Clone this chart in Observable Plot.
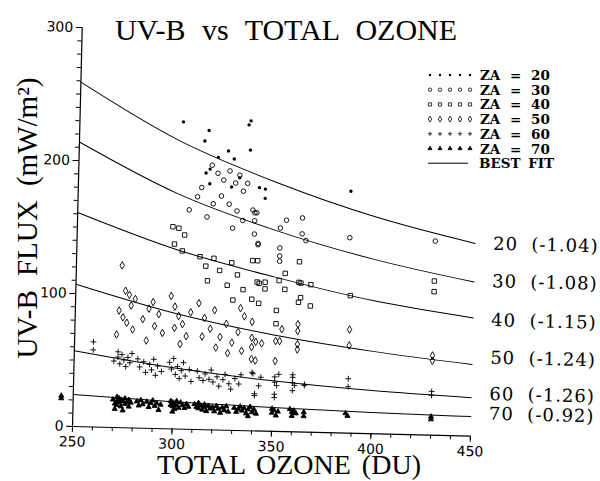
<!DOCTYPE html>
<html><head><meta charset="utf-8">
<script src="https://cdn.jsdelivr.net/npm/d3@7"></script>
<script src="https://cdn.jsdelivr.net/npm/@observablehq/plot@0.6"></script>
<style>
html,body{margin:0;padding:0;background:#fff;}
#chart{width:600px;height:481px;overflow:hidden;position:relative;}
</style></head><body><div id="chart"></div>
<script>
// ---- data ----
const zaLevels = [20, 30, 40, 50, 60, 70];
const fitExponents = [-1.04, -1.08, -1.15, -1.24, -1.26, -0.92];
const fitOzone = [250, 300, 350, 400, 450];
const fit20 = [259, 217, 187, 163, 145];
const fit30 = [214, 177, 151, 131, 116];
const fit40 = [161, 135, 116, 100, 89];
const fit50 = [107, 87, 72.5, 62, 54];
const fit60 = [57, 46, 38, 32.5, 29];
const fit70 = [24, 20.5, 18, 16, 14.8];

const obs20 = [[302,231],[315,225],[313,217],[325,210],[328,204],[335,230],[336,233],[336,211],[314,193],[316,196],[316,185],[327,183],[341,183],[344,182],[344,175],[387,182],[320,205],[331,190]];
const obs30 = [[317,199],[320,193],[323,188],[326,195],[329,186],[331,192],[333,180],[322,176],[318,170],[326,170],[312,182],[335,186],[310,175],[330,165],[306,165],[315,160],[328,152],[333,158],
  [338,166],[339,164],[340,164],[339,158],[339,148],[341,141],[341,140],[352,153],[355,159],[363,161],[363,149],[365,144],[352,138],[352,132],[352,128],[387,147],[430,146]];
const obs40 = [[298,152],[301,151],[304,146],[299,139],[303,134],[312,130],[315,123],[319,129],[322,120],[326,109],[328,126],[331,117],[334,106],[329,98],[316,112],
  [338.5,128],[341,128],[341,112],[342,111],[345,112],[345,107],[352,113.5],[355,107],[355,119],[362,128],[362,112.5],[363,112],[368,111],[388,103.5],[338.5,99],[342,96],[362,97.5],[363,101],[368,95],[351,91],[351,81],[430,116],[430,108]];
const obs50 = [[273,122],[275,103],[277,100],[280,97],[272,88],[274,83],[276,79],[279,74],[271,70],[278,92],
  [284,82],[287,90],[290,77],[292,86],[294,72],[286,66],[289,95],
  [298,100],[300,92],[302,85],[304,79],[306,70],[308,88],[303,64],[300,76],
  [312,95],[314,70],[315,84],[318,76],[320,90],[321,62],[323,70],[326,80],[327,58],[329,66],[332,74],[333,92],[335,86],[334,60],
  [339,82],[354,77],[362,81],[362,76],[388,78],[339,70],[341,67],[339,63],[344,66],[351,68],[353,68],[362,66],[362,62],[388,66],[339,54],[341,53],[351,53],[430,60],[430,56]];
const obs60 = [[259.5,64],[259.5,58],
  [270,50],[272,57],[272,53],[273,48],[274,55],[275,51],[276,46],[277,53],[278,49],[279,56],
  [282,52],[283,46],[285,50],[286,42],[288,48],[289,44],[290,52],[291,40],[292,47],[294,43],
  [298,50],[299,45],[300,53],[301,41],[302,47],[303,38],[304,44],[305,50],[306,40],[308,45],[309,36],
  [312,44],[313,39],[315,37],[316,42],[318,38],[319,45],[320,36],[322,40],[323,33],[325,38],[326,42],[328,35],[329,31],[331,39],[333,35],[334,42],
  [339.5,44],[340,43],[344,40.5],[343,34],[341,28],[341,26.6],[351,41],[353,43],[351,37],[352,34.5],[351,28],[351,25.5],[360,43],[360,41],[360,37],[361,35],[360,31],[366,36],[366,35],[388,41],[388,35],[430,33],[430,30]];
const obs70 = [[244,23],[244,21],
  [270,21],[271,18],[272,23],[272,20],[272,17],[273,22],[273,19],[274,21],[274,16],[275,20],[276,22],[276,18],[277,19],[278,21],[278,16],[279,19],[271,14],[275,13],
  [282,20],[283,17],[284,21],[285,18],[287,20],[288,16],[289,19],[290,21],[291,17],[292,19],[293,14],[294,18],
  [299,21],[299,18],[300,20],[300,17],[301,19],[301,15],[302,21],[302,18],[303,16],[304,20],[305,18],[306,16],[307,19],[308,17],[300,13],
  [311,19],[312,17],[313,20],[313,16],[314,18],[315,15],[316,19],[316,17],[317,14],[318,18],[319,16],
  [320,17],[321,14],[322,18],[323,16],[324,13],[325,17],[326,15],[327,18],[328,14],
  [331,17],[332,14],[333,16],[334,18],[335,15],[336,17],[337,13],[338,16],[339,18],[340,14],[341,16],[342,13],[338,11],
  [350,17],[350,14],[351,16],[352,12],[353,15],
  [359,17],[360,15],[360,12],[361,16],[362,14],
  [366,15],[366,12],[387,15],[388,13],[430,14],[430,12]];

const xTickLabels = [250, 300, 350, 400, 450];
const yTickLabels = [0, 100, 200, 300];

// ---- tidy tables ----
const fitValues = [fit20, fit30, fit40, fit50, fit60, fit70];
const obsValues = [obs20, obs30, obs40, obs50, obs60, obs70];
const points = [];
zaLevels.forEach((za, i) => obsValues[i].forEach(([o, f]) => points.push({za, ozone: o, flux: f})));
const fits = [];
zaLevels.forEach((za, i) => fitValues[i].forEach((f, j) => fits.push({za, ozone: fitOzone[j], flux: f})));
const ends = zaLevels.map((za, i) => ({za, ozone: fitOzone[fitOzone.length - 1], flux: fitValues[i][fitValues[i].length - 1],
  label: `${za}\u00a0\u00a0(${fitExponents[i].toFixed(2)})`}));

// ---- styles ----
const sym = {
  20: {symbol: "circle", r: 1.7, lr: 1.2, fill: "black", stroke: "none"},
  30: {symbol: "circle", r: 2.3, lr: 1.7, fill: "none", stroke: "black"},
  40: {symbol: "square", r: 2.5, lr: 1.8, fill: "none", stroke: "black"},
  50: {symbol: "diamond", r: 2.3, lr: 1.8, fill: "none", stroke: "black"},
  60: {symbol: "plus", r: 2.0, lr: 1.5, fill: "none", stroke: "black"},
  70: {symbol: "triangle", r: 1.9, lr: 1.5, fill: "black", stroke: "black"}
};
const labelNudge = {20: 0, 30: -1, 40: 2, 50: -7, 60: -4, 70: -3};

const dotMarks = zaLevels.map(za => Plot.dot(points.filter(d => d.za === za), {
  x: "ozone", y: "flux", symbol: sym[za].symbol, r: sym[za].r,
  fill: sym[za].fill, stroke: sym[za].stroke, strokeWidth: 0.9
}));
const labelMarks = zaLevels.map(za => Plot.text(ends.filter(d => d.za === za), {
  x: "ozone", y: "flux", text: "label", dx: 18, dy: labelNudge[za], textAnchor: "start",
  fontFamily: "DejaVu Serif", fontSize: 18, fill: "black"
}));

const svg = Plot.plot({
  width: 600, height: 481,
  marginTop: 27, marginRight: 130, marginBottom: 55, marginLeft: 72,
  x: {domain: [250, 450]},
  y: {domain: [0, 300]},
  style: {fontFamily: "DejaVu Sans", fontSize: "14px", color: "black", background: "white"},
  marks: [
    Plot.axisX({ticks: d3.range(250, 451, 10), tickSize: 4, tickFormat: () => "", label: null}),
    Plot.axisX({ticks: xTickLabels, tickSize: 6, tickPadding: 4, label: null, fontSize: 14}),
    Plot.axisY({ticks: d3.range(0, 301, 10), tickSize: 4, tickFormat: () => "", label: null}),
    Plot.axisY({ticks: yTickLabels, tickSize: 6, tickPadding: 3, label: null, fontSize: 14}),
    Plot.ruleX([250], {stroke: "black", strokeWidth: 1.2}),
    Plot.ruleY([0], {stroke: "black", strokeWidth: 1.2}),
    Plot.line(fits, {x: "ozone", y: "flux", z: "za", curve: "monotone-x", stroke: "black", strokeWidth: 1}),
    ...dotMarks,
    ...labelMarks
  ]
});

// the scanned plot body is slightly tilted
const NS = "http://www.w3.org/2000/svg";
const body = document.createElementNS(NS, "g");
body.setAttribute("transform", "rotate(1.4 72 426)");
while (svg.firstChild) body.appendChild(svg.firstChild);
svg.appendChild(body);
d3.select(body).selectAll('g[aria-label="text"] text').style("letter-spacing", "1px");

const s = d3.select(svg);
const serif = "'Liberation Serif','Times New Roman',serif";
s.append("text").attr("x", 286).attr("y", 40).attr("text-anchor", "middle")
  .style("font-family", serif).style("font-size", "30px").style("word-spacing", "9px")
  .text("UV-B vs TOTAL OZONE");
s.append("text").attr("x", 289).attr("y", 474).attr("text-anchor", "middle")
  .style("font-family", serif).style("font-size", "28px").style("word-spacing", "4px")
  .text("TOTAL OZONE (DU)");
s.append("text").attr("transform", "translate(37,218) rotate(-90)").attr("text-anchor", "middle")
  .style("font-family", serif).style("font-size", "29px").style("word-spacing", "7px")
  .text("UV-B FLUX (mW/m\u00b2)");

// legend
const leg = s.append("g").attr("transform", "translate(430,75)").attr("text-anchor", "start");
const symbolType = {circle: d3.symbolCircle, square: d3.symbolSquare, diamond: d3.symbolDiamond, plus: d3.symbolPlus, triangle: d3.symbolTriangle};
const lf = "'DejaVu Serif',serif";
zaLevels.forEach((za, i) => {
  const st = sym[za];
  const path = d3.symbol(symbolType[st.symbol], Math.PI * st.lr * st.lr)();
  for (let j = 0; j < 5; j++) {
    leg.append("path").attr("d", path).attr("transform", `translate(${j * 10},${i * 14.7})`)
      .attr("fill", st.fill).attr("stroke", st.stroke).attr("stroke-width", 0.8);
  }
  const t = leg.append("g").attr("transform", `translate(0,${i * 14.7 + 5})`)
    .style("font-family", lf).style("font-size", "13.5px").style("font-weight", "bold");
  t.append("text").attr("x", 50).attr("text-anchor", "start").text("ZA");
  t.append("text").attr("x", 80).attr("text-anchor", "start").text("=");
  t.append("text").attr("x", 101).attr("text-anchor", "start").text(za);
});
leg.append("line").attr("x1", -2).attr("x2", 38).attr("y1", 6 * 14.7).attr("y2", 6 * 14.7).attr("stroke", "black");
leg.append("text").attr("x", 49).attr("y", 6 * 14.7 + 5).attr("text-anchor", "start")
  .style("font-family", lf).style("font-size", "13.5px").style("font-weight", "bold").style("word-spacing", "3px")
  .text("BEST FIT");

document.getElementById("chart").appendChild(svg);
</script></body></html>
